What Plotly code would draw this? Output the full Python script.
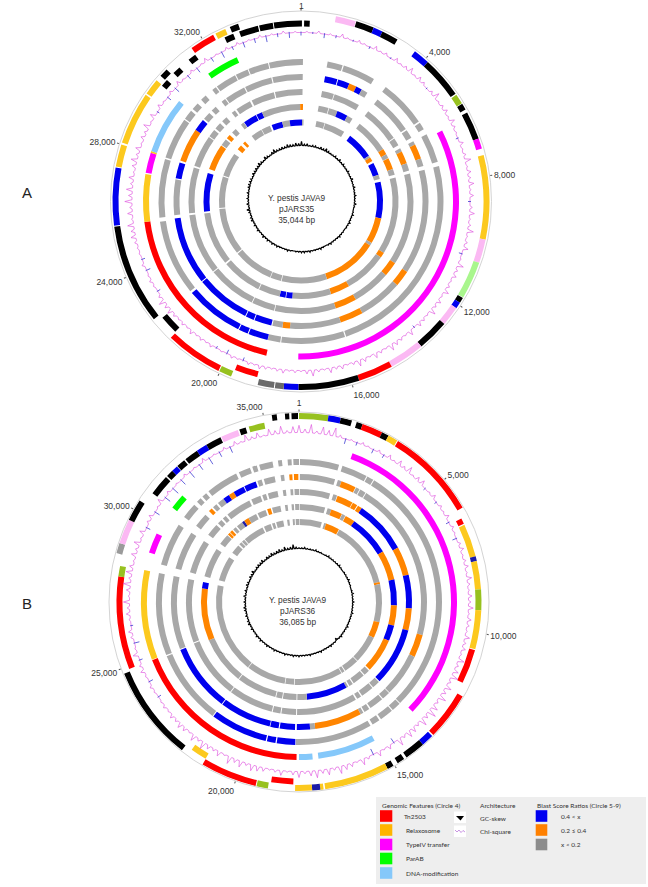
import plotly.graph_objects as go

# positions are read off the maps, in degrees clockwise from base 1
# g = x<0.2, o = 0.2-0.4, b = 0.4<x etc, other keys are feature types
PLASMID_A_BP = 35044
PLASMID_B_BP = 36085

ticks_a = [1, 4000, 8000, 12000, 16000, 20000, 24000, 28000, 32000]
ticks_b = [1, 5000, 10000, 15000, 20000, 25000, 30000, 35000]

a_forward = [
    (10.7, 16.9, "pink"), (17.1, 22.7, "black"), (22.7, 25.6, "blue"), (25.6, 30.8, "black"),
    (37.2, 42.3, "blue"), (42.3, 55.1, "black"), (55.5, 58.6, "olive"), (58.8, 60.8, "black"),
    (61.8, 70.5, "black"), (70.5, 73.7, "magenta"), (75.7, 101.7, "gold"), (101.7, 109, "pink"),
    (109, 120.6, "lime"), (120.8, 122.5, "black"), (122.5, 124.5, "blue"), (124.5, 130.5, "pink"),
    (130.5, 140.3, "black"), (140.3, 151.2, "pink"), (151.2, 162, "red"), (162, 180.8, "black"),
    (180.8, 185.3, "blue"), (185.3, 188, "dark"), (188.3, 193.3, "dark"), (201.8, 205.7, "olive"),
    (206, 223.7, "red"), (231.3, 262.3, "black"), (262.6, 280.4, "blue"), (280.7, 287.6, "gold"),
    (288.2, 304.5, "gold"), (305, 310, "gold"), (311.8, 314.5, "black"), (324.5, 332.2, "red"),
    (333, 336.3, "gold"), (337.8, 340.5, "black"),
]
a_reverse = [
    (194, 201.4, "red"), (224, 230, "black"), (309.8, 312.2, "black"), (315.2, 317.8, "black"),
    (321.6, 324.2, "black"), (335, 338, "black"), (340, 346.2, "black"), (346.6, 351, "black"),
    (351.3, 360.3, "black"), (361, 362.8, "black"),
]
a_features = [
    (63.3, 181, "magenta"), (192.7, 262.5, "red"), (262.5, 280, "gold"), (280.5, 288, "magenta"),
    (288, 288.6, "gold"), (288.6, 309.5, "sky"), (324, 336, "green"),
]
a_ring1 = [
    (10.8, 17, "g"), (17.5, 30.8, "g"), (36.5, 55.8, "g"), (56.5, 59.5, "g"), (61.8, 73.8, "g"),
    (75.6, 161.5, "g"), (162, 188, "g"), (188.4, 193.5, "g"), (193.6, 201.6, "b"), (202, 205.8, "b"),
    (206.2, 230, "b"), (231, 261.8, "g"), (263.5, 287.4, "g"), (288, 305, "g"), (305.5, 309.5, "g"),
    (310.5, 313.5, "g"), (315.5, 318, "g"), (321.5, 323.3, "g"), (323.8, 332.4, "g"),
    (332.8, 338, "g"), (338.4, 346.6, "g"), (347, 360.8, "g"),
]
a_ring2 = [
    (10.9, 16.6, "b"), (17, 22.3, "b"), (22.3, 25.7, "o"), (25.7, 28.5, "b"), (28.5, 31.4, "g"),
    (36.9, 55.3, "g"), (56, 60, "g"), (61.8, 63.5, "g"), (63.5, 70.3, "o"), (70.3, 73.8, "g"),
    (75.6, 123.6, "g"), (123.6, 131, "o"), (131, 151.2, "g"), (151.2, 161.8, "o"), (161.8, 185, "g"),
    (185, 188.4, "o"), (188.4, 193, "g"), (193.5, 201.4, "b"), (201.8, 205.6, "b"), (206, 230.8, "b"),
    (231.3, 262.3, "b"), (263.8, 280, "g"), (280.5, 287.8, "b"), (288.7, 304.2, "o"),
    (304.2, 309.7, "b"), (310.5, 314, "g"), (315.5, 318, "g"), (321.5, 323.5, "g"), (324, 333.5, "g"),
    (334, 346.5, "g"), (347, 360.8, "g"),
]
a_ring3 = [
    (10.8, 17, "g"), (17.4, 31, "g"), (36.7, 55.5, "g"), (56, 60, "g"), (61.8, 63.6, "g"),
    (63.6, 70.1, "o"), (70.1, 74, "g"), (75.6, 123.3, "g"), (123.3, 131, "o"), (131, 150.8, "g"),
    (150.8, 162, "o"), (162, 193.5, "g"), (193.9, 205.6, "g"), (206, 231, "g"), (231.5, 263, "g"),
    (264, 287.6, "g"), (288.5, 305, "g"), (305.5, 309.5, "g"), (310.5, 314, "g"), (315.5, 318.5, "g"),
    (322, 324, "g"), (325, 333, "g"), (334, 346, "g"), (346.6, 360.8, "g"),
]
a_ring4 = [
    (10.5, 16.4, "g"), (16.8, 22, "g"), (22, 28.4, "b"), (28.4, 31.9, "g"), (37, 57.5, "g"),
    (57.5, 61, "o"), (61, 63.5, "g"), (63.7, 70.5, "o"), (70.5, 74, "g"), (75.8, 121.8, "g"),
    (121.8, 125, "o"), (125, 150.5, "g"), (150.5, 162, "o"), (162, 185.2, "g"), (185.2, 188.8, "b"),
    (189.2, 192.7, "b"), (192.7, 205.5, "g"), (206, 230, "g"), (231, 263, "g"), (264, 287, "b"),
    (289.4, 305, "o"), (305.5, 309.5, "g"), (310.5, 313, "o"), (315, 318, "g"), (322, 324, "g"),
    (324.3, 332.4, "b"), (332.8, 336.4, "b"), (336.4, 359.5, "g"), (359.5, 361.2, "o"),
]
a_ring5 = [
    (10.9, 16.8, "g"), (17.2, 31.8, "g"), (36.8, 56, "b"), (56, 57.5, "g"), (57.5, 60.5, "o"),
    (62, 71, "b"), (71, 74, "g"), (76, 102, "b"), (102, 120.5, "o"), (120.5, 122.5, "g"),
    (122.5, 161.5, "o"), (161.5, 193.7, "g"), (194.2, 201.8, "g"), (202.2, 230.5, "g"),
    (231.3, 264.8, "g"), (265.5, 287.7, "g"), (288.5, 305.5, "g"), (309.5, 313, "o"), (315, 317, "o"),
    (323, 331, "g"), (331.4, 337.7, "g"), (339, 346.7, "b"), (346.7, 352, "g"), (352, 360.8, "b"),
    (360.8, 361.8, "g"),
]

b_forward = [
    (0, 9, "olive"), (9, 12.8, "blue"), (12.8, 16.3, "black"), (17.8, 19.7, "black"), (19.7, 26.1, "red"),
    (26.1, 28.3, "black"), (28.3, 31.3, "gold"), (31.6, 60, "red"), (120, 134.7, "red"),
    (135.2, 139, "blue"), (139, 145.3, "black"), (146.2, 148.5, "black"), (150, 152, "black"),
    (152, 172, "gold"), (172.5, 173.5, "gold"), (173.5, 176, "navy"), (176, 181.2, "gold"),
    (189.5, 193, "olive"), (193.3, 210.7, "red"), (218.3, 247.7, "black"), (285, 288.2, "mid"),
    (288.2, 295.8, "pink"), (295.8, 302.5, "black"), (351.7, 353.2, "black"), (355.7, 357, "black"),
    (357.7, 359.7, "black"),
]
b_reverse = [
    (62.8, 64.6, "red"), (65, 75.5, "gold"), (75.5, 77, "navy"), (77, 86, "gold"), (86, 92.6, "olive"),
    (92.6, 105, "gold"), (105.3, 116.3, "red"), (181.8, 188.8, "red"), (210.8, 216, "gold"),
    (248.5, 278.1, "red"), (278.1, 281.4, "olive"), (306.6, 313.2, "black"), (313.7, 316, "black"),
    (316, 318, "blue"), (318.2, 321, "black"), (321.5, 326, "black"), (326, 329.5, "blue"),
    (329.5, 334.5, "black"), (334.8, 340.4, "pink"), (340.9, 343, "black"), (344, 349, "olive"),
]
b_features = [
    (19.8, 134, "magenta"), (151.4, 172.9, "sky"), (175, 180, "sky"), (180.9, 248.4, "red"),
    (248.6, 281.7, "gold"), (288.3, 295.7, "magenta"), (306.7, 312.4, "green"),
]
b_ring1 = [
    (0.4, 16.3, "g"), (17.7, 28.2, "g"), (28.6, 31.3, "g"), (31.7, 135, "g"), (135.3, 139, "g"),
    (139.5, 145, "g"), (145.8, 149, "g"), (150, 181.3, "g"), (181.5, 189, "b"), (189.5, 193, "b"),
    (193.5, 216.8, "b"), (217.2, 247.7, "g"), (248.2, 281.7, "g"), (285.2, 302.7, "g"),
    (306.5, 312.9, "g"), (314.5, 316.5, "g"), (317.5, 319.5, "g"), (320.7, 333.9, "g"),
    (335.1, 339.9, "g"), (340.9, 342.8, "g"), (343.8, 349.3, "g"), (351.5, 353.1, "g"),
    (355.4, 357, "g"), (357.7, 360, "g"),
]
b_ring2 = [
    (0.4, 16.4, "g"), (17.7, 19.4, "g"), (19.4, 26.2, "o"), (26.5, 28.2, "g"), (28.6, 31.3, "g"),
    (31.7, 105, "g"), (105, 115.4, "o"), (115.4, 135, "g"), (135.3, 139, "g"), (139.5, 146, "g"),
    (146.7, 149.2, "g"), (149.8, 151.2, "g"), (151.2, 172.7, "o"), (172.7, 175, "g"), (175, 181, "b"),
    (181.8, 188.7, "b"), (189.2, 193, "b"), (193.3, 216.8, "b"), (217.2, 248, "b"), (248.4, 281.7, "g"),
    (285.2, 302.7, "g"), (306.5, 313, "g"), (315.3, 317, "o"), (317.8, 319.8, "g"), (320.7, 323.8, "g"),
    (323.8, 326.8, "b"), (326.8, 329.3, "o"), (329.3, 334.3, "b"), (334.7, 340.2, "b"), (341, 343, "g"),
    (344, 349, "g"), (351.7, 353.3, "g"), (355.6, 357, "o"), (357.7, 359.7, "o"),
]
b_ring3 = [
    (0.4, 16, "g"), (17.7, 19.7, "g"), (20, 28.2, "o"), (28.5, 31, "o"), (31.5, 33.8, "o"),
    (33.8, 61.2, "b"), (61.2, 76, "o"), (76, 93.3, "b"), (93.3, 104.6, "o"), (104.6, 134.5, "b"),
    (135, 139, "g"), (139.5, 146, "g"), (146.7, 149, "g"), (149.8, 181, "g"), (181.5, 189, "g"),
    (189.5, 193.5, "g"), (194, 217, "g"), (217.5, 248.5, "g"), (249, 281.7, "g"), (285.2, 302.7, "g"),
    (306.5, 313, "g"), (314.2, 316.6, "g"), (317.6, 319.6, "g"), (320.7, 333.9, "g"), (335, 340, "g"),
    (341, 343, "g"), (344, 349, "g"), (351.7, 353.3, "g"), (355.6, 357, "g"), (357.7, 360, "g"),
]
b_ring4 = [
    (0.4, 15.5, "g"), (17, 19.3, "g"), (19.3, 26, "o"), (26.2, 28.2, "g"), (28.5, 34.4, "o"),
    (34.4, 59, "b"), (59, 76.6, "o"), (76.6, 92, "b"), (92, 104, "o"), (104, 113.3, "b"),
    (113.3, 133.7, "o"), (134.5, 138, "g"), (138.7, 146, "g"), (146.7, 149, "g"), (149.8, 151, "g"),
    (151, 175.3, "b"), (175.3, 181, "g"), (181.5, 189.5, "g"), (190, 193.5, "g"), (194, 217.8, "g"),
    (218.3, 247, "g"), (247, 278, "o"), (278, 281.8, "b"), (285.2, 302.7, "g"), (306.5, 313, "g"),
    (313.5, 315, "o"), (315.3, 317, "o"), (317.8, 319.8, "g"), (320.7, 324.5, "g"), (324.5, 326, "navy"),
    (326, 329, "o"), (329, 334, "g"), (335, 340, "g"), (341, 343.2, "o"), (344, 349, "g"),
    (351.7, 353.3, "g"), (355.6, 357, "g"), (357.7, 360, "g"),
]
b_ring5 = [
    (0.4, 16, "g"), (17.7, 19.1, "g"), (19.1, 28.8, "o"), (29.2, 76, "g"), (76, 77.5, "o"),
    (77.5, 104.2, "g"), (104.2, 115.6, "o"), (115.6, 135, "g"), (135.5, 146, "g"), (146.7, 148.7, "g"),
    (149.2, 183, "g"), (183.5, 189.5, "g"), (190, 217.5, "g"), (218, 281.7, "g"), (285.2, 302.7, "g"),
    (306.5, 313, "g"), (314, 316, "g"), (316.6, 318.6, "g"), (319.2, 333.9, "g"), (335, 340, "g"),
    (341, 343, "g"), (344, 349, "g"), (351.7, 353.3, "g"), (355.6, 357, "g"), (357.7, 360, "g"),
]

# chi-square, one reading every 2 degrees (negative ones are the blue ticks)
chi_a = [
    -3, 1, -1, 2, -4, 1, -2, 3, 1, -1, 2, 1, -2, 3, 1, 2, -1, 3, 1, 2,
    4, 1, 3, 2, -1, 2, 5, 1, 2, 3, 1, 4, 2, 1, -2, 3, 1, 2, 5, 1,
    3, 2, 4, 1, 3, -2, 2, 4, 1, 2, 5, 1, 2, 4, -3, 1, 5, 2, 3, 1,
    2, 4, 1, 3, 2, 5, 1, 2, 3, -2, 4, 1, 2, 3, 5, 1, 2, 4, 1, 3,
    5, 2, 1, 3, 2, 4, 1, 2, 5, 3, 1, 2, 1, 3, 2, 1, 2, 3, 1, 2,
    -3, 1, 2, -4, 1, -2, 2, 1, 2, 1, 3, 1, 2, 1, 2, 4, 3, 5, 2, -3,
    1, 2, 1, -4, 2, -3, 1, 1, 2, 4, 3, 5, 1, 4, 2, 6, 3, 5, 2, 4,
    1, 3, 5, 2, 4, 1, 3, 2, 5, 1, 4, -2, 3, 1, -4, 2, -5, 3, 1, -4,
    2, -5, 1, 3, -4, 1, -6, 2, -3, 2, -5, 1, -4, 2, -6, 1, -3, 2, -5, 1,
]
chi_b = [
    6, 3, 7, 2, 6, 4, 7, 2, -5, 1, -3, 2, 1, -4, 2, -3, 3, 1, 4, 2,
    5, 1, 3, 4, -2, 1, 3, -2, 2, 1, 3, -3, 2, 1, -4, 2, 3, 1, 2, 3,
    1, 4, 2, 1, 3, 2, 4, 1, 3, 2, 1, 4, 2, 3, 1, 5, 2, 4, 6, 2,
    5, 3, 6, 2, 5, 7, 3, 6, 2, 4, 5, 2, 6, -5, 3, 1, 4, -6, 2, 5,
    1, 3, 4, 6, 2, 5, 3, 6, 4, 2, 5, 3, 1, 4, 2, 1, 3, 4, 5, 2,
    5, 3, 6, 1, 4, 2, 3, 6, 2, 5, 1, 3, 4, 2, 3, 1, 2, 1, -3, 1,
    2, -4, 1, 3, 2, -3, 4, 1, -5, 2, 3, -2, 1, 3, 2, 5, 1, 3, 6, 2,
    5, 3, 1, 4, 2, 5, 1, 4, -4, 2, 3, -5, 1, 4, -6, 2, -7, 1, -6, 2,
    -7, 1, -6, 3, -7, 1, -5, 2, -6, 3, 1, 5, 2, 4, 1, 5, 3, 6, 2, 5,
]
# GC skew, one reading every 3 degrees
gc_a = [
    6, 2, 3, 1, 2, 2, 1, 3, 2, 4, 2, 1, 1, 2, 1, 3, 1, 2, 1, 1,
    2, 1, 1, 3, 1, 1, 2, 1, 1, 2, 1, 1, 3, 1, 0, 1, 2, 1, 1, 2,
    1, 1, 0, 1, 1, 2, 1, 1, 1, 2, 1, 0, 1, 2, 1, 1, 1, 2, 1, 2,
    2, 1, 1, 0, 1, 2, 1, 1, 1, 2, 1, 2, 1, 2, 1, 3, 1, 1, 2, 1,
    2, 1, 3, 2, 1, 2, 4, 1, 3, 1, 2, 1, 2, 1, 2, 3, 2, 2, 1, 3,
    2, 3, 2, 4, 2, 1, 4, 2, 1, 3, 5, 2, 2, 3, 2, 4, 3, 2, 4, 3,
]
gc_b = [
    1, 1, 2, 1, 1, 1, 2, 1, 1, 0, 1, 2, 1, 1, 1, 1, 2, 1, 0, 1,
    1, 1, 2, 1, 1, 0, 1, 2, 1, 1, 2, 1, 1, 1, 2, 1, 1, 1, 1, 2,
    1, 1, 1, 2, 1, -3, 1, 1, 2, 1, 1, 1, 2, 1, 1, 1, 2, 1, 1, 1,
    2, 1, 2, 1, 1, 2, 1, 1, 1, 2, 1, 1, 2, 1, 1, 2, 1, 2, 1, 1,
    2, 1, 3, 2, 1, 2, 1, 2, 3, 1, 2, 1, 3, 1, 2, 1, 3, 2, 1, 3,
    2, 4, 1, 2, 3, 2, 4, 1, 3, 2, 4, 2, 3, 4, 2, 5, 2, 3, 6, 2,
]

feature_labels = ["Tn2503", "Relaxosome", "TypeIV transfer", "ParAB", "DNA-modification"]
feature_colors = ["#ff0000", "#ffb400", "#ff00ff", "#00ff00", "#85c8fa"]
blast_labels = ["0.4 < x", "0.2 ≤ 0.4", "x < 0.2"]
blast_colors = ["#0000f0", "#ff8000", "#8c8c8c"]

COLORS = {
    "g": "#a8a8a8", "o": "#ff8500", "b": "#0000ee", "blue": "#0000ee", "navy": "#1c1ca8",
    "black": "#000000", "red": "#ff0000", "gold": "#fcc91e", "magenta": "#ff00ff",
    "pink": "#fbb9f3", "olive": "#97c11f", "lime": "#a9f68d", "green": "#00ff00",
    "sky": "#85c8fa", "dark": "#6b6b6b", "mid": "#9a9a9a",
}

W, H = 648, 887
FONT = "Liberation Sans, Arial, sans-serif"
LEGEND_FONT = "Lato, sans-serif"


def px(x):
    return x / W


def py(y):
    return 1 - y / H


def polar_layout(cx, cy, radius, tick_deg=None, tick_text=None):
    axis = dict(
        direction="clockwise", rotation=90, showgrid=False, showline=False,
        ticks="", showticklabels=False, thetaunit="degrees",
    )
    if tick_deg:
        axis.update(
            showline=True, linecolor="#d4d4d4", linewidth=1, ticks="outside", ticklen=2,
            tickcolor="#555555", showticklabels=True, tickmode="array", tickvals=tick_deg,
            ticktext=tick_text, tickfont=dict(family=FONT, size=8.5, color="#333333"),
        )
    return dict(
        domain=dict(x=[px(cx - radius), px(cx + radius)], y=[py(cy + radius), py(cy - radius)]),
        bgcolor="rgba(0,0,0,0)",
        barmode="overlay",
        radialaxis=dict(visible=False, range=[0, radius]),
        angularaxis=axis,
    )


def ring_trace(segments, inner, subplot):
    return go.Barpolar(
        theta=[(s + e) / 2 for s, e, c in segments],
        width=[e - s for s, e, c in segments],
        r=[6] * len(segments),
        base=[inner] * len(segments),
        marker=dict(color=[COLORS[c] for s, e, c in segments], line=dict(width=0)),
        subplot=subplot,
        showlegend=False,
        hoverinfo="skip",
    )


def spikes(values, step, base, scale):
    # each reading is a thin spike standing on the base circle
    theta, r = [], []
    for i, v in enumerate(values):
        t = i * step
        theta += [t - step * 0.3, t, t + step * 0.3]
        r += [base, base + v * scale, base]
    return theta + theta[:1], r + r[:1]


def chi_traces(values, base, subplot):
    theta, r = spikes([max(v, 0) for v in values], 2, base, 1.2)
    pink = go.Scatterpolar(
        theta=theta, r=r, mode="lines", line=dict(color="#dc45dc", width=0.6),
        subplot=subplot, showlegend=False, hoverinfo="skip",
    )
    blue_t, blue_r = [], []
    for i, v in enumerate(values):
        if v < 0:
            blue_t += [i * 2, i * 2, None]
            blue_r += [base + 1, base + v, None]
    blue = go.Scatterpolar(
        theta=blue_t, r=blue_r, mode="lines", line=dict(color="#3c3cd2", width=0.8),
        subplot=subplot, showlegend=False, hoverinfo="skip",
    )
    return [pink, blue]


def skew_trace(values, base, subplot):
    theta, r = spikes(values, 3, base, 0.7)
    return go.Scatterpolar(
        theta=theta, r=r, mode="lines", line=dict(color="#000000", width=1.2),
        subplot=subplot, showlegend=False, hoverinfo="skip",
    )


fig = go.Figure()

# plasmid A
for seg, inner in [(a_forward, 182.5), (a_reverse, 175), (a_features, 152), (a_ring1, 136.5),
                   (a_ring2, 121.5), (a_ring3, 106.5), (a_ring4, 91.5), (a_ring5, 76)]:
    fig.add_trace(ring_trace(seg, inner, "polar"))
fig.add_traces(chi_traces(chi_a, 169, "polar"))
fig.add_trace(skew_trace(gc_a, 53, "polar2"))

# plasmid B
for seg, inner in [(b_forward, 183), (b_reverse, 176.5), (b_features, 152), (b_ring1, 137),
                   (b_ring2, 122), (b_ring3, 107), (b_ring4, 92), (b_ring5, 77)]:
    fig.add_trace(ring_trace(seg, inner, "polar3"))
fig.add_traces(chi_traces(chi_b, 169.5, "polar3"))
fig.add_trace(skew_trace(gc_b, 53.5, "polar4"))


def bp_to_deg(values, total):
    return [v / total * 360 for v in values]


annotations = []


def add_text(x, y, text, size=8, family=FONT, color="#333333", anchor="left"):
    annotations.append(dict(
        x=px(x), y=py(y), xref="paper", yref="paper", text=text, showarrow=False,
        xanchor=anchor, yanchor="middle", align="center" if anchor == "center" else "left",
        font=dict(family=family, size=size, color=color),
    ))


add_text(27, 193, "A", size=15, anchor="center", color="#222222")
add_text(27, 603, "B", size=15, anchor="center", color="#222222")
add_text(297, 209, "Y. pestis JAVA9<br>pJARS35<br>35,044 bp", size=8.3, anchor="center")
add_text(297.5, 611, "Y. pestis JAVA9<br>pJARS36<br>36,085 bp", size=8.3, anchor="center")
# the tick label for base 1 of A would hit the top of the page, so it sits here instead
add_text(301, 6, "1", size=8.5, anchor="center")

# legend panel
shapes = [dict(type="rect", xref="paper", yref="paper", x0=px(376), x1=px(646), y0=py(884), y1=py(797),
               fillcolor="#eeeeee", line=dict(width=0), layer="below")]


def swatch(x0, x1, y0, y1, color):
    shapes.append(dict(type="rect", xref="paper", yref="paper", x0=px(x0), x1=px(x1), y0=py(y1), y1=py(y0),
                       fillcolor=color, line=dict(width=0)))


add_text(380, 805, "Genomic Features (Circle 4)", size=6.5, family=LEGEND_FONT)
add_text(478, 805, "Architecture", size=6.5, family=LEGEND_FONT)
add_text(535, 805, "Blast Score Ratios (Circle 5-9)", size=6.5, family=LEGEND_FONT)

feature_y = [816, 830, 844.5, 858.5, 873]
feature_x = [402, 404, 404, 404, 404]
for label, color, y, x in zip(feature_labels, feature_colors, feature_y, feature_x):
    swatch(380, 392.3, y - 5.8, y + 5.8, color)
    add_text(x, y, label, size=6.5, family=LEGEND_FONT)

for label, color, y in zip(blast_labels, blast_colors, feature_y):
    swatch(535.7, 547.3, y - 5.8, y + 5.8, color)
    add_text(559, y, label, size=6.5, family=LEGEND_FONT)

# architecture icons
swatch(454, 466, 811.5, 823, "#ffffff")
swatch(454, 466, 825.5, 837, "#ffffff")
shapes.append(dict(type="path", xref="paper", yref="paper", fillcolor="#000000", line=dict(width=0),
                   path=f"M {px(456)} {py(816)} L {px(464)} {py(816)} L {px(460.5)} {py(820.5)} Z"))
shapes.append(dict(type="path", xref="paper", yref="paper", line=dict(color="#a64fd0", width=0.6),
                   path=f"M {px(455)} {py(830)} L {px(457)} {py(832)} L {px(459)} {py(830)} "
                        f"L {px(461)} {py(832.5)} L {px(463)} {py(830.5)} L {px(465)} {py(832)}"))
add_text(477.7, 818, "GC-skew", size=6.5, family=LEGEND_FONT)
add_text(477.7, 831, "Chi-square", size=6.5, family=LEGEND_FONT)

fig.update_layout(
    width=W,
    height=H,
    margin=dict(l=0, r=0, t=0, b=0),
    paper_bgcolor="#ffffff",
    plot_bgcolor="#ffffff",
    showlegend=False,
    annotations=annotations,
    shapes=shapes,
    polar=polar_layout(301, 201.5, 190.5, bp_to_deg(ticks_a, PLASMID_A_BP),
                       [""] + [f"{v:,}" for v in ticks_a[1:]]),
    polar2=polar_layout(301.5, 198.5, 70),
    polar3=polar_layout(299, 602, 190, bp_to_deg(ticks_b, PLASMID_B_BP),
                        [f"{v:,}" for v in ticks_b]),
    polar4=polar_layout(299, 602, 70),
)

# the page's default body margin would push the figure 8px off the window
fig.write_html(
    "out.html",
    config={"displayModeBar": False},
    post_script="document.body.style.margin='0';document.body.style.overflow='hidden';",
)
